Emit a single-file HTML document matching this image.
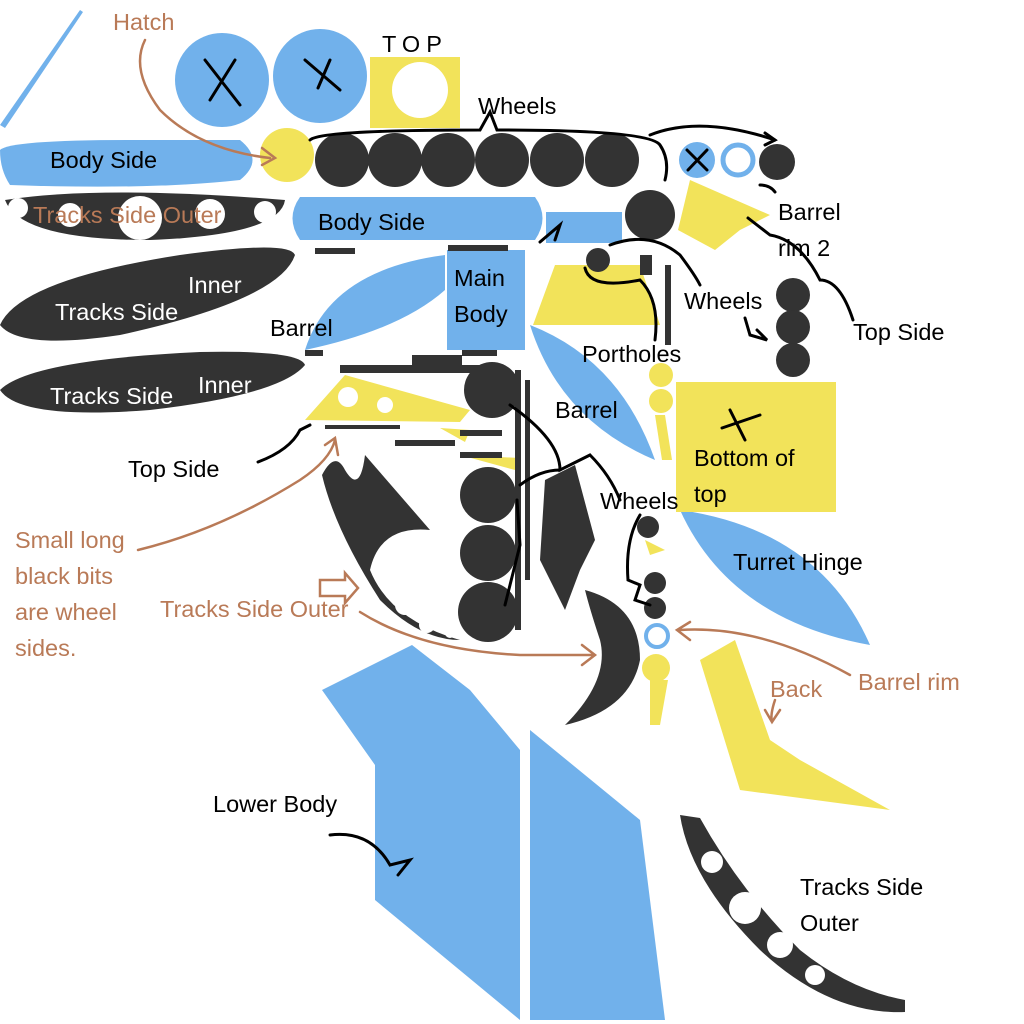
<!DOCTYPE html>
<html><head><meta charset="utf-8"><style>
html,body{margin:0;padding:0;background:#fff}
svg{display:block}
text{font-family:"Liberation Sans",sans-serif;font-size:23.5px}
.w{fill:#fff}.k{fill:#000}.br{fill:#b97a57}
</style></head><body>
<svg width="1024" height="1024" viewBox="0 0 1024 1024" xmlns="http://www.w3.org/2000/svg">
<g fill="#71b1eb">
<polygon points="0,125 80,10 83,12 5,128"/>
<circle cx="222" cy="80" r="47"/><circle cx="320" cy="76" r="47"/>
<path d="M0,150 Q10,140 130,140 L240,140 Q265,160 240,180 Q150,190 10,185 Q0,170 0,150Z"/>
<path d="M300,197 L535,197 Q550,218 535,240 L300,240 Q285,218 300,197Z"/>
<rect x="546" y="212" width="76" height="31"/>
<path d="M305,350 Q330,270 445,255 L445,290 Q400,330 305,350Z"/>
<rect x="447" y="250" width="78" height="100"/>
<path d="M530,325 Q620,360 655,460 Q560,420 530,325Z"/>
<circle cx="697" cy="160" r="18"/>
<path d="M680,510 Q820,530 870,645 Q730,620 680,510Z"/>
<polygon points="322,690 412,645 470,690 520,750 520,1020 375,900 375,765"/>
<polygon points="530,730 640,820 665,1020 530,1020"/>
</g>
<circle cx="738" cy="160" r="15" fill="none" stroke="#71b1eb" stroke-width="5"/>
<circle cx="657" cy="636" r="11" fill="none" stroke="#71b1eb" stroke-width="4"/>
<g fill="#f2e35a">
<rect x="370" y="57" width="90" height="71"/>
<circle cx="287" cy="155" r="27"/>
<polygon points="555,265 640,265 660,325 533,325"/>
<polygon points="690,180 770,215 740,230 715,250 678,230"/>
<rect x="676" y="382" width="160" height="130"/>
<circle cx="661" cy="375" r="12"/><circle cx="661" cy="401" r="12"/>
<polygon points="655,415 665,415 672,460 662,460"/>
<polygon points="305,420 345,375 470,410 460,422"/>
<polygon points="440,428 470,430 465,442"/>
<polygon points="460,455 520,458 515,470"/>
<circle cx="656" cy="668" r="14"/>
<polygon points="650,680 668,680 660,725 650,725"/>
<polygon points="700,660 735,640 770,740 800,760 890,810 740,790"/>
<polygon points="645,540 665,550 650,555"/>
</g>
<circle cx="420" cy="90" r="28" class="w"/>
<circle cx="348" cy="397" r="10" class="w"/><circle cx="385" cy="405" r="8" class="w"/>
<g fill="#333">
<circle cx="342" cy="160" r="27"/><circle cx="395" cy="160" r="27"/><circle cx="448" cy="160" r="27"/>
<circle cx="502" cy="160" r="27"/><circle cx="557" cy="160" r="27"/><circle cx="612" cy="160" r="27"/>
<circle cx="650" cy="215" r="25"/><circle cx="777" cy="162" r="18"/>
<circle cx="598" cy="260" r="12"/>
<path d="M5,200 Q100,185 285,200 Q280,235 150,240 Q20,240 5,200Z"/>
<path d="M0,325 Q20,280 180,255 Q290,240 295,255 Q280,300 120,335 Q20,350 0,325Z"/>
<path d="M0,390 Q30,360 200,352 Q300,350 305,365 Q280,395 150,410 Q20,420 0,390Z"/>
<circle cx="793" cy="295" r="17"/><circle cx="793" cy="327" r="17"/><circle cx="793" cy="360" r="17"/>
<circle cx="492" cy="390" r="28"/><circle cx="488" cy="495" r="28"/><circle cx="488" cy="553" r="28"/><circle cx="488" cy="612" r="30"/>
<path d="M322,475 Q335,450 345,470 Q360,495 365,455 L430,530 Q380,525 370,570 Q390,620 460,640 Q420,640 380,600 Q335,530 322,475Z"/>
<polygon points="545,480 575,465 595,540 580,570 565,610 540,560"/>
<path d="M585,590 Q640,605 640,660 Q630,710 565,725 Q610,680 600,640 Q590,610 585,590Z"/>
<circle cx="648" cy="527" r="11"/><circle cx="655" cy="583" r="11"/><circle cx="655" cy="608" r="11"/>
<path d="M680,815 Q690,880 760,950 Q830,1015 905,1012 L905,1000 Q850,990 800,950 Q740,890 700,818Z"/>
<rect x="315" y="248" width="40" height="6"/><rect x="305" y="350" width="18" height="6"/>
<rect x="340" y="365" width="160" height="8"/><rect x="412" y="355" width="50" height="10"/>
<rect x="325" y="425" width="75" height="4"/><rect x="395" y="440" width="60" height="6"/>
<rect x="460" y="430" width="42" height="6"/><rect x="460" y="452" width="42" height="6"/>
<rect x="515" y="370" width="6" height="260"/><rect x="525" y="380" width="5" height="200"/>
<rect x="640" y="255" width="12" height="20"/><rect x="665" y="265" width="6" height="80"/>
<rect x="448" y="245" width="60" height="6"/><rect x="462" y="350" width="35" height="6"/>
</g>
<g fill="#fff">
<circle cx="18" cy="208" r="10"/><circle cx="70" cy="215" r="12"/><circle cx="140" cy="218" r="22"/><circle cx="210" cy="214" r="15"/><circle cx="265" cy="212" r="11"/>
<circle cx="405" cy="605" r="10"/><circle cx="427" cy="625" r="8"/><circle cx="450" cy="633" r="5"/>
<circle cx="712" cy="862" r="11"/><circle cx="745" cy="908" r="16"/><circle cx="780" cy="945" r="13"/><circle cx="815" cy="975" r="10"/>
</g>
<g fill="none" stroke="#000" stroke-width="3" stroke-linecap="round">
<path d="M205,60 L240,105 M235,60 L210,100"/><path d="M305,60 L340,90 M330,60 L318,88"/>
<path d="M687,150 L707,170 M707,150 L688,170"/>
<path d="M730,410 L745,440 M722,428 L760,415"/>
<path d="M310,140 Q320,130 480,130 L490,112 L497,130 Q650,130 660,145 Q670,160 665,180"/>
<path d="M650,135 Q700,115 775,140"/><path d="M765,133 L775,140 L765,145"/>
<path d="M540,242 L560,225 L555,240"/>
<path d="M585,268 Q590,290 640,280 Q660,300 655,340"/>
<path d="M610,245 Q650,230 680,255 Q695,275 700,285"/>
<path d="M745,318 L750,335 L767,340 L757,330"/>
<path d="M853,320 Q840,280 820,280 Q800,240 770,235 L748,218"/>
<path d="M760,185 Q770,185 775,192"/>
<path d="M510,405 Q560,440 560,470 L590,455 Q610,475 620,500"/>
<path d="M520,485 Q540,470 560,470"/>
<path d="M505,605 L520,545 L517,500"/>
<path d="M258,462 Q290,450 300,430 L310,425"/>
<path d="M640,515 Q625,540 628,580 L640,585 L635,600 L650,605"/>
<path d="M330,835 Q370,830 390,865 L410,860 L398,875"/>
</g>
<g fill="none" stroke="#b97a57" stroke-width="2.5" stroke-linecap="round">
<path d="M145,40 Q130,70 160,110 Q200,150 270,158"/><path d="M262,148 L275,158 L262,165"/>
<path d="M138,550 Q220,530 300,480 Q330,460 335,440 M325,445 L335,438 L338,455"/>
<path d="M360,612 Q420,650 520,655 L595,655 M582,645 L595,655 L582,665"/>
<path d="M850,675 Q760,625 680,630 M690,622 L677,630 L690,640"/>
<path d="M775,700 Q770,715 772,722 M765,710 L772,722 L780,710"/>
<polygon points="320,580 345,580 345,573 358,588 345,603 345,596 320,596" fill="none"/>
</g>
<g class="k">
<text x="382" y="52" font-size="20" letter-spacing="6">TOP</text>
<text x="478" y="114">Wheels</text>
<text x="778" y="220">Barrel</text><text x="778" y="256">rim 2</text>
<text x="684" y="309">Wheels</text><text x="853" y="340">Top Side</text>
<text x="270" y="336">Barrel</text>
<text x="582" y="362">Portholes</text>
<text x="555" y="418">Barrel</text>
<text x="694" y="466">Bottom of</text><text x="694" y="502">top</text>
<text x="128" y="477">Top Side</text>
<text x="600" y="509">Wheels</text>
<text x="733" y="570">Turret Hinge</text>
<text x="213" y="812">Lower Body</text>
<text x="800" y="895">Tracks Side</text><text x="800" y="931">Outer</text>
<text x="454" y="286">Main</text><text x="454" y="322">Body</text>
<text x="50" y="168">Body Side</text><text x="318" y="230">Body Side</text>
</g>
<g class="w">
<text x="188" y="293">Inner</text><text x="55" y="320">Tracks Side</text>
<text x="198" y="393">Inner</text><text x="50" y="404">Tracks Side</text>
</g>
<g class="br">
<text x="113" y="30">Hatch</text>
<text x="33" y="223">Tracks Side Outer</text>
<text x="15" y="548">Small long</text><text x="15" y="584">black bits</text><text x="15" y="620">are wheel</text><text x="15" y="656">sides.</text>
<text x="160" y="617">Tracks Side Outer</text>
<text x="858" y="690">Barrel rim</text><text x="770" y="697">Back</text>
</g>
</svg>
</body></html>
